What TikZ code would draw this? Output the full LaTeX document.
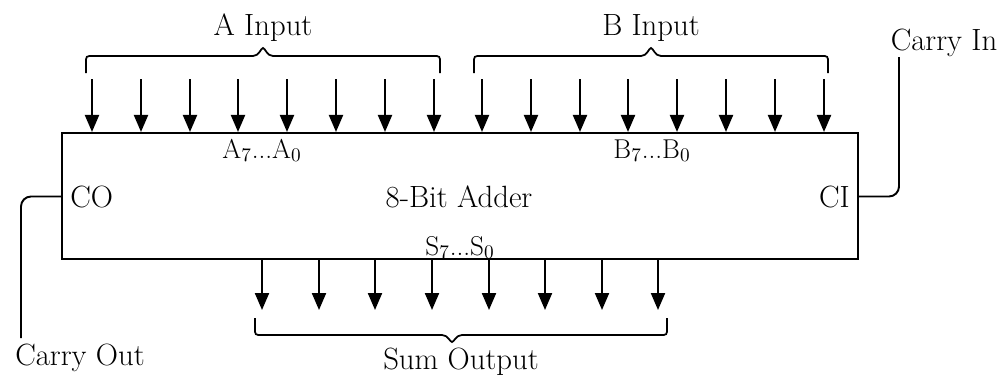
\documentclass[tikz,border=0pt]{standalone}
\usetikzlibrary{arrows.meta, positioning, calc}
\tikzset{
	bitarrow/.style={line width=1.2pt, -{Triangle[length=0.34cm, width=0.28cm]}},
	wire/.style={line width=1.1pt, rounded corners=0.2cm},
	bracket/.style={line width=1.0pt},
	bigtext/.style={font=\fontsize{17.5}{20}\selectfont, inner sep=0pt},
	subtext/.style={font=\fontsize{15.5}{18}\selectfont, inner sep=0pt}
}
% curly bracket: left x, right x, tip x, end y, bar y, tip y
\newcommand{\bracket}[6]{%
	\pgfmathsetmacro{\bdir}{(#5-#4)/abs(#5-#4)}
	\draw[bracket] (#1,#4) -- (#1,#5-7*\bdir) .. controls (#1,#5) .. (#1+7,#5)
	-- (#3-10,#5)
	.. controls (#3-4,#5) and (#3-2,#6) .. (#3,#6)
	.. controls (#3+2,#6) and (#3+4,#5) .. (#3+10,#5)
	-- (#2-7,#5) .. controls (#2,#5) .. (#2,#5-7*\bdir) -- (#2,#4);
}

\begin{document}
\begin{tikzpicture}[x=0.02cm, y=-0.02cm]

	\useasboundingbox (0,0) rectangle (1003,376);

	\tikzset{
		adderbox/.style={
				shape=rectangle,
				draw=black,
				line width=1.2pt,
				minimum width=15.92cm,
				minimum height=2.52cm,
				inner sep=0pt
			}
	}
	\node[adderbox] (adder) at (460,196) {};

	\node[bigtext, anchor=base] (name) at (459,207) {8-Bit Adder};
	\node[bigtext, anchor=base west] (co) at (70,207) {CO};
	\node[bigtext, anchor=base east] (ci) at (850,207) {CI};

	\node[subtext, anchor=base] (abus) at (262,158) {A$_7$...A$_0$};
	\node[subtext, anchor=base] (bbus) at (652,158) {B$_7$...B$_0$};
	\node[subtext, anchor=base] (sbus) at (460,255) {S$_7$...S$_0$};

	% input bits
	\foreach \x [count=\i] in {92,141,190,238,287,336,385,434} {
			\coordinate (a\i) at (\x,79);
			\draw[bitarrow] (a\i) -- (a\i |- adder.north);
		}
	\foreach \x [count=\i] in {482,531,580,628,677,726,775,824} {
			\coordinate (b\i) at (\x,79);
			\draw[bitarrow] (b\i) -- (b\i |- adder.north);
		}

	% output bits
	\foreach \x [count=\i] in {262,319,375,432,489,545,602,658} {
			\coordinate (s\i) at (\x,310);
			\draw[bitarrow] (s\i |- adder.south) -- (s\i);
		}

	\bracket{86}{440}{263}{73}{56}{48}
	\bracket{474}{828}{651}{73}{56}{48}
	\bracket{255}{667}{452}{318}{335}{342}

	\node[bigtext, anchor=base] (ain) at (263,35) {A Input};
	\node[bigtext, anchor=base] (bin) at (651,35) {B Input};
	\node[bigtext, anchor=base] (sout) at (461,369) {Sum Output};

	% carry lines
	\node[bigtext, anchor=base] (cin) at (944,50) {Carry In};
	\node[bigtext, anchor=base] (cout) at (80,365) {Carry Out};
	\coordinate (cinend) at (899,57);
	\coordinate (coutend) at (21,338);
	\draw[wire] (adder.east |- ci.center) -| (cinend);
	\draw[wire] (adder.west |- co.center) -| (coutend);

\end{tikzpicture}
\end{document}
